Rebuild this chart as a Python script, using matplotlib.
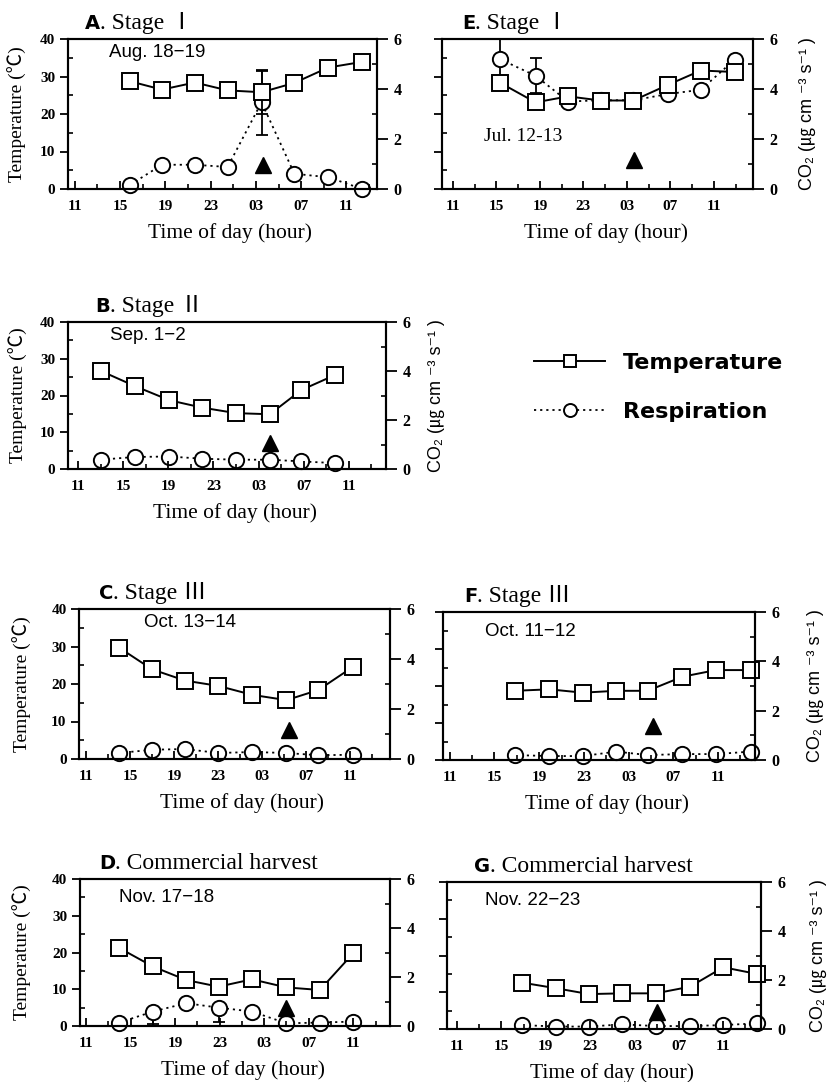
import numpy as np
import matplotlib
matplotlib.use('Agg')
import matplotlib.pyplot as plt

SERIF = ['Liberation Serif', 'Noto Sans CJK KR', 'DejaVu Sans']
SANS = ['Liberation Sans', 'Noto Sans CJK KR', 'DejaVu Sans']
plt.rcParams['font.family'] = SERIF

W, H = 827, 1082

# running clock: 27 = 03 h and 35 = 11 h of the next day
tick_hours = [11, 15, 19, 23, 27, 31, 35]
tick_labels = ['11', '15', '19', '23', '03', '07', '11']
minor_hours = [13, 17, 21, 25, 29, 33, 37]
temp_ticks = [0, 10, 20, 30, 40]
co2_ticks = [0, 2, 4, 6]

# A. Stage I  (Aug. 18-19)
a_hour = [15.9, 18.7, 21.6, 24.5, 27.5, 30.4, 33.4, 36.4]
a_temp = [28.7, 26.5, 28.4, 26.3, 25.8, 28.3, 32.4, 33.9]
a_temp_err = [0, 0, 0, 0, 5.8, 0, 0, 0]
a_resp = [0.17, 0.97, 0.97, 0.88, 3.47, 0.61, 0.47, 0.0]
a_resp_err = [0, 0, 0, 0, 1.3, 0, 0, 0]
a_mark = (27.6, 6.5)

# E. Stage I  (Jul. 12-13)
e_hour = [15.3, 18.6, 21.6, 24.6, 27.6, 30.8, 33.8, 36.9]
e_temp = [28.4, 23.1, 24.7, 23.6, 23.6, 27.8, 31.6, 31.2]
e_temp_err = [0, 0, 0, 0, 0, 0, 0, 0]
e_resp = [5.2, 4.53, 3.5, 3.55, 3.55, 3.8, 3.97, 5.17]
e_resp_err = [0.8, 0.7, 0, 0, 0, 0, 0, 0]
e_mark = (27.7, 7.8)

# B. Stage II  (Sep. 1-2)
b_hour = [13.0, 16.0, 19.1, 22.0, 25.0, 28.0, 30.8, 33.8]
b_temp = [26.7, 22.6, 18.7, 16.7, 15.2, 14.9, 21.5, 25.6]
b_temp_err = [0, 0, 0, 0, 0, 0, 0, 0]
b_resp = [0.38, 0.49, 0.51, 0.42, 0.38, 0.38, 0.31, 0.24]
b_resp_err = [0, 0, 0, 0, 0, 0, 0, 0]
b_mark = (28.0, 7.0)

# C. Stage III  (Oct. 13-14)
c_hour = [14.0, 17.0, 20.0, 23.0, 26.1, 29.2, 32.1, 35.2]
c_temp = [29.7, 23.9, 20.9, 19.5, 17.1, 15.7, 18.4, 24.5]
c_temp_err = [0, 0, 0, 0, 0, 0, 0, 0]
c_resp = [0.24, 0.37, 0.40, 0.24, 0.28, 0.24, 0.15, 0.17]
c_resp_err = [0, 0, 0, 0, 0, 0, 0, 0]
c_mark = (29.4, 7.7)

# F. Stage III  (Oct. 11-12)
f_hour = [16.8, 19.9, 22.9, 25.9, 28.7, 31.8, 34.8, 37.9]
f_temp = [18.7, 19.1, 18.2, 18.7, 18.7, 22.5, 24.3, 24.3]
f_temp_err = [0, 0, 0, 0, 0, 0, 0, 0]
f_resp = [0.2, 0.16, 0.16, 0.34, 0.2, 0.24, 0.24, 0.34]
f_resp_err = [0, 0, 0, 0, 0, 0, 0, 0]
f_mark = (29.2, 9.3)

# D. Commercial harvest  (Nov. 17-18)
d_hour = [14.0, 17.0, 20.0, 22.9, 25.9, 29.0, 32.0, 35.0]
d_temp = [21.2, 16.2, 12.5, 10.7, 12.7, 10.5, 9.8, 19.8]
d_temp_err = [0, 0, 0, 0, 0, 0, 0, 0]
d_resp = [0.14, 0.59, 0.93, 0.75, 0.59, 0.11, 0.14, 0.18]
d_resp_err = [[0, 0.5, 0, 0.6, 0, 0, 0, 0], [0, 0, 0, 0, 0, 0, 0, 0]]
d_mark = (29.0, 4.8)

# G. Commercial harvest  (Nov. 22-23)
g_hour = [16.9, 19.9, 22.9, 25.9, 28.9, 32.0, 35.0, 38.0]
g_temp = [12.6, 11.1, 9.5, 9.7, 9.7, 11.5, 16.8, 15.0]
g_temp_err = [0, 0, 0, 0, 0, 0, 0, 0]
g_resp = [0.16, 0.1, 0.1, 0.19, 0.12, 0.12, 0.16, 0.23]
g_resp_err = [0, 0, 0, 0, 0, 0, 0, 0]
g_mark = (29.0, 4.5)

panels = [
    dict(letter='A', stage='. Stage Ⅰ', date='Aug. 18−19', hour=a_hour, temp=a_temp, temp_err=a_temp_err,
         resp=a_resp, resp_err=a_resp_err, mark=a_mark,
         box=(68, 39, 377, 189), xlim=(10.4, 37.7), title_dx=32, date_xy=(0.288, 0.913), date_font=SANS,
         left=True, right_label=False, ylab_dx=51),
    dict(letter='E', stage='. Stage Ⅰ', date='Jul. 12-13', hour=e_hour, temp=e_temp, temp_err=e_temp_err,
         resp=e_resp, resp_err=e_resp_err, mark=e_mark,
         box=(442, 39, 753, 189), xlim=(10.0, 38.6), title_dx=33, date_xy=(0.26, 0.347), date_font=SERIF,
         left=False, right_label=True, ylab_dx=54),
    dict(letter='B', stage='. Stage Ⅱ', date='Sep. 1−2', hour=b_hour, temp=b_temp, temp_err=b_temp_err,
         resp=b_resp, resp_err=b_resp_err, mark=b_mark,
         box=(68, 322, 386, 469), xlim=(10.1, 38.3), title_dx=42, date_xy=(0.25, 0.91), date_font=SANS,
         left=True, right_label=True, ylab_dx=50),
    dict(letter='C', stage='. Stage Ⅲ', date='Oct. 13−14', hour=c_hour, temp=c_temp, temp_err=c_temp_err,
         resp=c_resp, resp_err=c_resp_err, mark=c_mark,
         box=(79, 609, 390, 759), xlim=(10.36, 38.6), title_dx=34, date_xy=(0.357, 0.907), date_font=SANS,
         left=True, right_label=False, ylab_dx=57),
    dict(letter='F', stage='. Stage Ⅲ', date='Oct. 11−12', hour=f_hour, temp=f_temp, temp_err=f_temp_err,
         resp=f_resp, resp_err=f_resp_err, mark=f_mark,
         box=(443, 612, 755, 760), xlim=(10.4, 38.3), title_dx=34, date_xy=(0.279, 0.865), date_font=SANS,
         left=False, right_label=True, ylab_dx=60),
    dict(letter='D', stage='. Commercial harvest', date='Nov. 17−18', hour=d_hour, temp=d_temp, temp_err=d_temp_err,
         resp=d_resp, resp_err=d_resp_err, mark=d_mark,
         box=(80, 879, 390, 1026), xlim=(10.46, 38.3), title_dx=35, date_xy=(0.28, 0.871), date_font=SANS,
         left=True, right_label=False, ylab_dx=58),
    dict(letter='G', stage='. Commercial harvest', date='Nov. 22−23', hour=g_hour, temp=g_temp, temp_err=g_temp_err,
         resp=g_resp, resp_err=g_resp_err, mark=g_mark,
         box=(447, 882, 761, 1029), xlim=(10.1, 38.4), title_dx=43, date_xy=(0.274, 0.871), date_font=SANS,
         left=False, right_label=True, ylab_dx=57),
]


def draw_err(ax, hours, vals, err):
    err = np.atleast_2d(np.asarray(err, dtype=float))
    if err.shape[0] == 1:
        err = np.vstack([err, err])
    idx = [i for i in range(len(hours)) if err[:, i].any()]
    if idx:
        ax.errorbar([hours[i] for i in idx], [vals[i] for i in idx], yerr=err[:, idx],
                    fmt='none', ecolor='black', elinewidth=1.3, capsize=4, capthick=1.3, zorder=1)


fig = plt.figure(figsize=(W / 100, H / 100), dpi=100)
legend_lines = None

for p in panels:
    l, t, r, b = p['box']
    ax = fig.add_axes([l / W, 1 - b / H, (r - l) / W, (b - t) / H])
    ax2 = ax.twinx()
    ax.set_zorder(ax2.get_zorder() + 1)
    ax.patch.set_visible(False)

    # respiration on the right axis
    draw_err(ax2, p['hour'], p['resp'], p['resp_err'])
    resp_line, = ax2.plot(p['hour'], p['resp'], color='black', lw=1.3, dashes=(1.2, 2.2),
                          marker='o', ms=11, mfc='white', mec='black', mew=1.4, clip_on=False)
    # temperature on the left axis
    draw_err(ax, p['hour'], p['temp'], p['temp_err'])
    temp_line, = ax.plot(p['hour'], p['temp'], color='black', lw=1.4, clip_on=False,
                         marker='s', ms=11, mfc='white', mec='black', mew=1.4)
    ax.plot([p['mark'][0]], [p['mark'][1]], ls='none', marker='^', ms=12, color='black')
    if legend_lines is None:
        legend_lines = [temp_line, resp_line]

    ax.set_xlim(p['xlim'])
    ax.set_ylim(0, 40)
    ax2.set_ylim(0, 6)
    ax.set_xticks(tick_hours, tick_labels, fontweight='bold', fontsize=11)
    ax.set_xticks(minor_hours, minor=True)
    ax.set_yticks(temp_ticks, [str(v) for v in temp_ticks], fontweight='bold', fontsize=11)
    ax.set_yticks([5, 15, 25, 35], minor=True)
    ax2.set_yticks(co2_ticks, [str(v) for v in co2_ticks], fontweight='bold', fontsize=11.5)
    ax2.set_yticks([1, 3, 5], minor=True)

    ax.tick_params(axis='x', which='major', direction='in', length=6, width=1.3, pad=8)
    ax.tick_params(axis='x', which='minor', direction='in', length=3.5, width=1.2)
    ax.tick_params(axis='y', which='major', direction='out', length=6, width=1.3, pad=3,
                   labelleft=p['left'])
    ax.tick_params(axis='y', which='minor', direction='in', length=3.5, width=1.2)
    ax2.tick_params(axis='y', which='major', direction='out', length=8, width=1.3, pad=4)
    ax2.tick_params(axis='y', which='minor', direction='in', length=3.5, width=1.2)
    for s in list(ax.spines.values()) + list(ax2.spines.values()):
        s.set_linewidth(1.5)

    # panel title: bold letter + serif stage name
    ax.annotate(p['letter'], xy=(0, 1), xycoords='axes fraction', xytext=(p['title_dx'], 10),
                textcoords='offset pixels', ha='right', va='baseline',
                family='DejaVu Sans', weight='heavy', size=14)
    ax.annotate(p['stage'], xy=(0, 1), xycoords='axes fraction', xytext=(p['title_dx'], 10),
                textcoords='offset pixels', ha='left', va='baseline', family=SERIF, size=17)
    ax.text(p['date_xy'][0], p['date_xy'][1], p['date'], transform=ax.transAxes,
            ha='center', va='center', family=p['date_font'],
            size=14 if p['date_font'] is SERIF else 13.5)

    ax.annotate('Time of day (hour)', xy=(0.5, 0), xycoords='axes fraction', xytext=(8, -44),
                textcoords='offset pixels', ha='center', va='center', family=SERIF, size=15.5)
    if p['left']:
        ax.annotate('Temperature (℃)', xy=(0, 0.5), xycoords='axes fraction',
                    xytext=(-p['ylab_dx'], 0), textcoords='offset pixels', ha='center', va='center',
                    rotation=90, family=SERIF, size=14)
    if p['right_label']:
        ax.annotate('CO₂ (㎍ cm ⁻³ s⁻¹ )', xy=(1, 0.5), xycoords='axes fraction',
                    xytext=(p['ylab_dx'], 0), textcoords='offset pixels', ha='center', va='center',
                    rotation=90, family=SANS, size=13)

fig.legend(legend_lines, ['Temperature', 'Respiration'], loc='upper left',
           bbox_to_anchor=(523 / W, 1 - 342 / H), frameon=False, borderpad=0,
           handlelength=3.2, handletextpad=0.8, labelspacing=1.3, markerscale=0.85,
           prop=dict(family='DejaVu Sans', weight='bold', size=16))

fig.savefig('out.png', dpi=100)
